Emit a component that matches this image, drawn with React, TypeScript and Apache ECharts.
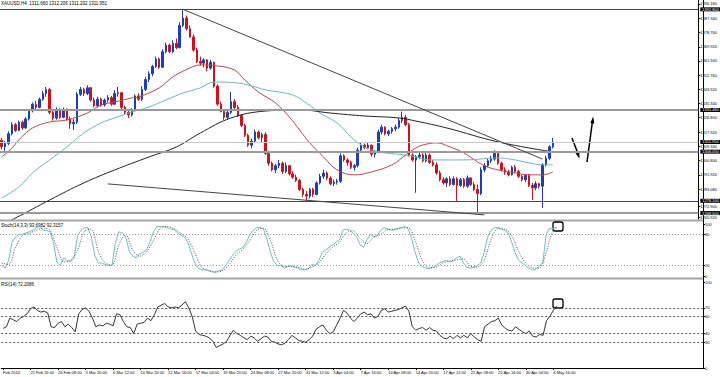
import React, { useEffect, useRef } from "react";
import * as echarts from "echarts";

const tickLabels = ["Feb 2014", "21 Feb 16:00", "26 Feb 08:00", "3 Mar 20:00", "6 Mar 12:00", "10 Mar 20:00", "12 Mar 16:00", "17 Mar 04:00", "19 Mar 20:00", "24 Mar 08:00", "27 Mar 20:00", "31 Mar 12:00", "3 Apr 04:00", "7 Apr 16:00", "10 Apr 08:00", "14 Apr 20:00", "17 Apr 12:00", "22 Apr 08:00", "25 Apr 16:00", "30 Apr 04:00", "4 May 16:00"];
const BARS_PER_LABEL = 8;
const SLOTS = 204;

// [open, close, low, high]
const candles: number[][] = [
  [1313, 1309, 1307.5, 1314.5], [1309, 1311, 1306.5, 1312.5], [1311, 1317, 1310, 1318.5], [1317, 1322.5, 1316, 1324],
  [1322.5, 1319, 1318, 1323.5], [1319, 1324, 1318.5, 1325], [1324, 1320.5, 1319.5, 1325], [1320.5, 1326, 1320, 1327],
  [1326, 1331, 1325, 1332], [1331, 1335, 1330, 1336], [1335, 1333, 1332, 1337], [1333, 1338, 1332.5, 1339],
  [1338, 1341.5, 1337, 1343], [1341.5, 1344, 1339.5, 1345.5], [1344, 1330, 1329, 1345], [1330, 1326.5, 1325, 1331.5],
  [1326.5, 1331, 1325.5, 1333], [1331, 1327, 1326, 1332.5], [1327, 1331.5, 1326.5, 1333], [1331.5, 1326, 1325, 1332.5],
  [1326, 1323, 1320, 1327.5], [1323, 1324, 1319.3, 1326], [1324, 1341, 1323, 1342.5], [1341, 1344, 1340, 1345.5],
  [1344, 1341.5, 1340, 1345], [1341.5, 1345, 1340.5, 1346.5], [1345, 1337.5, 1336.5, 1345.5], [1337.5, 1334, 1333, 1339],
  [1334, 1338, 1333, 1339.5], [1338, 1334.5, 1333.5, 1339], [1334.5, 1337.5, 1333.5, 1338.5], [1337.5, 1339, 1336, 1340.5],
  [1339, 1335, 1334, 1340], [1335, 1341.5, 1334.5, 1343.5], [1341.5, 1342, 1339.5, 1345.5], [1342, 1333, 1332, 1342.5],
  [1333, 1330, 1329, 1334], [1330, 1328.5, 1326.5, 1331.5], [1328.5, 1331.5, 1327.5, 1332.5], [1331.5, 1340, 1331, 1341],
  [1340, 1338, 1337, 1341.5], [1338, 1344, 1337, 1346], [1344, 1350, 1343, 1351.5], [1350, 1353.5, 1348.5, 1355],
  [1353.5, 1358, 1352, 1359], [1358, 1362.5, 1357, 1364], [1362.5, 1357.5, 1356.5, 1363.5], [1357.5, 1367, 1357, 1368.5],
  [1367, 1371, 1366, 1372.5], [1371, 1367, 1366, 1372], [1367, 1372, 1366, 1374], [1372, 1369.5, 1368.5, 1375],
  [1369.5, 1383, 1369, 1385], [1383, 1387.5, 1382, 1392.8], [1387.5, 1381, 1380, 1389], [1381, 1376, 1375.5, 1383],
  [1376, 1368, 1367, 1377.5], [1368, 1361, 1360, 1369.5], [1361, 1360, 1358.5, 1364], [1360, 1362, 1357.5, 1363],
  [1362, 1357, 1355, 1362.5], [1357, 1360.5, 1356, 1362], [1360.5, 1346, 1345, 1361], [1346, 1335, 1334, 1347],
  [1335, 1330.5, 1330, 1336.5], [1330.5, 1327, 1325.5, 1332], [1327, 1330, 1325.5, 1331], [1330, 1336.5, 1329, 1342.5],
  [1336.5, 1333, 1332, 1338], [1333, 1328, 1327, 1334.5], [1328, 1322, 1321, 1329], [1322, 1316, 1315, 1323],
  [1316, 1310, 1309, 1317], [1310, 1312.5, 1308, 1314], [1312.5, 1318, 1311.5, 1319.5], [1318, 1314.5, 1313.5, 1319],
  [1314.5, 1316.5, 1312, 1317.5], [1316.5, 1305, 1304, 1318], [1305, 1299, 1297.5, 1306], [1299, 1295, 1294, 1300],
  [1295, 1297.5, 1293, 1298.5], [1297.5, 1299, 1296, 1301], [1299, 1294, 1292.5, 1300], [1294, 1297.5, 1293, 1299.5],
  [1297.5, 1292.5, 1291.5, 1298], [1292.5, 1290.5, 1289.5, 1294], [1290.5, 1288.5, 1287.5, 1292], [1288.5, 1283, 1282, 1289.5],
  [1283, 1280, 1278.5, 1284], [1280, 1279, 1276, 1282], [1279, 1283, 1277.5, 1284], [1283, 1280, 1278.5, 1284],
  [1280, 1287, 1279.5, 1288], [1287, 1291, 1286, 1292.5], [1291, 1293, 1289.5, 1295], [1293, 1290, 1288.5, 1294],
  [1290, 1286.5, 1285.5, 1291], [1286.5, 1287.5, 1285, 1289], [1287.5, 1288, 1286, 1289.5], [1288, 1303.5, 1287, 1305],
  [1303.5, 1301, 1300, 1304.5], [1301, 1299.5, 1297.5, 1302], [1299.5, 1296.5, 1295.5, 1300.5], [1296.5, 1297.5, 1294.5, 1298.5],
  [1297.5, 1307, 1296.5, 1308.5], [1307, 1310, 1305.5, 1311.5], [1310, 1308.5, 1307.5, 1311], [1308.5, 1310, 1307.5, 1311.5],
  [1310, 1304.5, 1303, 1310.5], [1304.5, 1306, 1302.5, 1307], [1306, 1318, 1305, 1319.5], [1318, 1321, 1316.5, 1322.5],
  [1321, 1317, 1316, 1321.5], [1317, 1318.5, 1315.5, 1319.5], [1318.5, 1320, 1317, 1321], [1320, 1321, 1318.5, 1322.5],
  [1321, 1325, 1320, 1326.5], [1325, 1327, 1323.5, 1330.5], [1327, 1322.5, 1321.5, 1328.5], [1322.5, 1304, 1303, 1323.5],
  [1304, 1301, 1300, 1305], [1301, 1303, 1281, 1304], [1303, 1304, 1301.5, 1305.5], [1304, 1300.5, 1299.5, 1305],
  [1300.5, 1304, 1299.5, 1305.5], [1304, 1299.5, 1298.5, 1305], [1299.5, 1298, 1297, 1301], [1298, 1293, 1292, 1299.5],
  [1293, 1289, 1288, 1294.5], [1289, 1287, 1286, 1290.5], [1287, 1289.5, 1284.5, 1290.5], [1289.5, 1286, 1285, 1291],
  [1286, 1289.5, 1285.5, 1291], [1289.5, 1285.5, 1275.4, 1290.5], [1285.5, 1289, 1284.5, 1290], [1289, 1285, 1284, 1290],
  [1285, 1290, 1284, 1291.5], [1290, 1286, 1285, 1290.5], [1286, 1283, 1282, 1287.5], [1283, 1280.5, 1268.5, 1286],
  [1280.5, 1295, 1279.5, 1296.5], [1295, 1297.5, 1293.5, 1299], [1297.5, 1300.5, 1296.5, 1302], [1300.5, 1301.5, 1299, 1303.5],
  [1301.5, 1305, 1300.5, 1307], [1305, 1299, 1298, 1306], [1299, 1295, 1294, 1300], [1295, 1293.5, 1292, 1296.5],
  [1293.5, 1292, 1291, 1295], [1292, 1296.5, 1291.5, 1297.5], [1296.5, 1294, 1293, 1298], [1294, 1291, 1290, 1295],
  [1291, 1289, 1288, 1292], [1289, 1291.5, 1287.5, 1292.5], [1291.5, 1285.5, 1284.5, 1292.5], [1285.5, 1284, 1276.6, 1287],
  [1284, 1286.5, 1282.5, 1288], [1286.5, 1285, 1283.5, 1287], [1285, 1298, 1271.7, 1299], [1298, 1302, 1297, 1303.5],
  [1302, 1309, 1301, 1310], [1309, 1311.951, 1308, 1314.5],
];

// moving averages as [barIndex, price]
const maRed: number[][] = [[0, 1302.8], [3, 1308.3], [5, 1313.2], [9, 1320.5], [14, 1324.1], [19, 1325.4], [25, 1329.6], [29, 1334.5], [33, 1336.3], [38, 1338.8], [40, 1339.4], [46, 1344.9], [50, 1351.6], [55, 1357.1], [58, 1358.9], [63, 1358.3], [68, 1355.8], [71, 1349.7], [75, 1342.4], [80, 1335.7], [84, 1327.2], [87, 1319.3], [90, 1311.4], [94, 1302.8], [98, 1294.9], [103, 1291.9], [108, 1293.7], [114, 1298.0], [118, 1304.0], [121, 1308.3], [123, 1310.1], [127, 1311.4], [131, 1308.9], [135, 1305.3], [139, 1299.8], [142, 1296.7], [145, 1294.9], [150, 1293.1], [154, 1291.9], [158, 1291.9], [161, 1293.7]];
const maTeal: number[][] = [[0, 1277.8], [5, 1284.5], [9, 1293.1], [14, 1301.0], [19, 1308.9], [24, 1317.4], [29, 1323.5], [33, 1326.6], [38, 1330.2], [43, 1333.3], [48, 1337.6], [53, 1341.8], [58, 1344.9], [62, 1348.5], [69, 1347.9], [75, 1344.9], [77, 1343.7], [85, 1340.6], [89, 1335.7], [93, 1329.6], [98, 1323.5], [102, 1315.0], [105, 1310.1], [108, 1307.1], [112, 1305.3], [118, 1304.0], [121, 1302.8], [125, 1301.0], [135, 1301.0], [145, 1302.2], [150, 1301.0], [154, 1299.2], [158, 1298.0], [161, 1298.0]];
const maBlack: number[][] = [[0, 1262.0], [4, 1265.6], [14, 1276.6], [24, 1287.0], [33, 1294.9], [43, 1302.8], [51, 1308.9], [58, 1317.4], [67, 1326.6], [77, 1330.8], [87, 1331.5], [96, 1329.6], [106, 1327.8], [116, 1326.6], [121, 1324.7], [130, 1320.5], [145, 1312.0], [161, 1305.9]];

// trend lines: [[barIndex, price], [barIndex, price]]
const trendUpper: number[][] = [[53, 1392.8], [158, 1301.5]];
const trendLower: number[][] = [[31, 1286.4], [141, 1267.5]];

// horizontal levels
const levelDark = [1392.8, 1276.1];
const levelGrey = [1331.46, 1306.05, 1268.6];
const bidPrice = 1311.951;

// main price axis labels
const priceTicks = [1396.18, 1387.34, 1378.76, 1369.92, 1361.34, 1352.76, 1343.92, 1335.34, 1326.8, 1317.92, 1309.34, 1300.8, 1291.92, 1283.08, 1272.9, 1265.92];

// Stochastic %K and %D as [barIndex, value]
const stochK: number[][] = [[0, 20], [1, 15], [2, 30], [3, 65], [4, 75], [5, 80], [6, 80], [7, 83], [8, 85], [9, 88], [10, 93], [11, 95], [12, 88], [13, 88], [14, 85], [15, 65], [16, 27], [17, 20], [18, 35], [19, 30], [20, 28], [21, 35], [22, 78], [23, 88], [24, 93], [25, 93], [26, 75], [27, 40], [28, 25], [29, 25], [30, 22], [31, 20], [32, 20], [33, 65], [34, 85], [35, 83], [36, 75], [37, 48], [38, 38], [39, 35], [40, 43], [41, 45], [42, 50], [43, 65], [44, 85], [45, 95], [46, 95], [47, 95], [48, 93], [49, 90], [50, 90], [51, 83], [52, 78], [53, 75], [54, 65], [55, 45], [56, 25], [57, 15], [58, 12], [59, 12], [60, 10], [61, 8], [62, 7], [63, 10], [64, 12], [65, 20], [66, 30], [67, 40], [68, 48], [69, 52], [70, 55], [71, 65], [72, 80], [73, 88], [74, 93], [75, 93], [76, 90], [77, 70], [78, 45], [79, 27], [80, 20], [81, 20], [82, 15], [83, 18], [84, 20], [85, 17], [86, 15], [87, 12], [88, 12], [89, 14], [90, 22], [91, 20], [92, 30], [93, 45], [94, 50], [95, 55], [96, 60], [97, 65], [98, 70], [99, 88], [100, 90], [101, 88], [102, 82], [103, 75], [104, 60], [105, 55], [106, 70], [107, 80], [108, 75], [109, 78], [110, 88], [111, 93], [112, 90], [113, 88], [114, 90], [115, 92], [116, 93], [117, 95], [118, 90], [119, 70], [120, 45], [121, 25], [122, 18], [123, 15], [124, 14], [125, 16], [126, 20], [127, 25], [128, 28], [129, 30], [130, 27], [131, 29], [132, 35], [133, 38], [134, 25], [135, 17], [136, 15], [137, 17], [138, 20], [139, 25], [140, 45], [141, 75], [142, 88], [143, 93], [144, 93], [145, 90], [146, 88], [147, 82], [148, 65], [149, 45], [150, 30], [151, 25], [152, 20], [153, 15], [154, 12], [155, 12], [156, 20], [157, 25], [158, 80], [159, 92], [160, 91], [161, 93.7]];
const stochD: number[][] = [[0, 25], [2, 22], [4, 55], [6, 78], [8, 82], [10, 88], [12, 92], [14, 88], [16, 55], [18, 27], [20, 30], [22, 50], [24, 86], [26, 90], [28, 48], [30, 25], [32, 21], [34, 60], [36, 80], [38, 50], [40, 38], [42, 46], [44, 68], [46, 92], [48, 95], [50, 91], [52, 82], [54, 72], [56, 45], [58, 17], [60, 11], [62, 8], [64, 10], [66, 22], [68, 40], [70, 52], [72, 68], [74, 88], [76, 92], [78, 68], [80, 30], [82, 18], [84, 18], [86, 17], [88, 13], [90, 17], [92, 25], [94, 42], [96, 55], [98, 65], [100, 83], [102, 87], [104, 72], [106, 62], [108, 75], [110, 80], [112, 90], [114, 89], [116, 92], [118, 93], [120, 68], [122, 30], [124, 16], [126, 17], [128, 25], [130, 29], [132, 31], [134, 33], [136, 19], [138, 17], [140, 30], [142, 70], [144, 91], [146, 90], [148, 78], [150, 47], [152, 25], [154, 16], [156, 15], [158, 45], [159, 70], [160, 87], [161, 92.3]];

// RSI(14) as [barIndex, value]
const rsi: number[][] = [[0, 46], [1, 48], [2, 58], [3, 56], [4, 54], [5, 58], [6, 60], [7, 63], [8, 69], [9, 71], [10, 67], [11, 65], [12, 66], [13, 64], [14, 48], [15, 47], [16, 52], [17, 54], [18, 48], [19, 51], [20, 47], [21, 42], [22, 63], [23, 68], [24, 70], [25, 66], [26, 58], [27, 48], [28, 50], [29, 49], [30, 52], [31, 51], [32, 49], [33, 63], [34, 62], [35, 54], [36, 48], [37, 47], [38, 40], [39, 51], [40, 52], [41, 53], [42, 58], [43, 55], [44, 62], [45, 71], [46, 73], [47, 75], [48, 71], [49, 70], [50, 71], [51, 70], [52, 73], [53, 77], [54, 70], [55, 60], [56, 43], [57, 39], [58, 38], [59, 37], [60, 35], [61, 31], [62, 24], [63, 26], [64, 28], [65, 31], [66, 38], [67, 44], [68, 40], [69, 38], [70, 35], [71, 33], [72, 37], [73, 35], [74, 31], [75, 34], [76, 37], [77, 36], [78, 31], [79, 30], [80, 28], [81, 27], [82, 29], [83, 33], [84, 38], [85, 35], [86, 32], [87, 31], [88, 30], [89, 33], [90, 37], [91, 45], [92, 48], [93, 50], [94, 44], [95, 40], [96, 42], [97, 50], [98, 58], [99, 67], [100, 64], [101, 58], [102, 54], [103, 58], [104, 63], [105, 65], [106, 62], [107, 63], [108, 58], [109, 60], [110, 67], [111, 69], [112, 65], [113, 66], [114, 67], [115, 68], [116, 70], [117, 72], [118, 66], [119, 48], [120, 44], [121, 46], [122, 47], [123, 44], [124, 47], [125, 44], [126, 43], [127, 38], [128, 35], [129, 34], [130, 37], [131, 34], [132, 38], [133, 35], [134, 38], [135, 35], [136, 40], [137, 36], [138, 33], [139, 31], [140, 48], [141, 51], [142, 54], [143, 55], [144, 58], [145, 50], [146, 46], [147, 44], [148, 43], [149, 48], [150, 45], [151, 42], [152, 40], [153, 43], [154, 37], [155, 36], [156, 39], [157, 38], [158, 55], [159, 60], [160, 67], [161, 72.2]];

const stochLevels = [20, 80];
const rsiLevels = [30, 40, 60, 70];

const FONT = "Liberation Sans";

export default function App() {
  const ref = useRef<HTMLDivElement>(null);
  useEffect(() => {
    if (!ref.current) return;
    const chart = echarts.init(ref.current, null, { renderer: "svg" });
    const categories: string[] = [];
    for (let i = 0; i < SLOTS; i++) {
      const k = i / BARS_PER_LABEL;
      categories.push(i % BARS_PER_LABEL === 0 && k < tickLabels.length ? tickLabels[k] : "");
    }
    const grids = [
      { left: 0, top: 0, width: 703, height: 219 },
      { left: 0, top: 224, width: 703, height: 52 },
      { left: 0, top: 282, width: 703, height: 86 },
    ];
    const xAxes = grids.map((_, k) => ({
      type: "category",
      gridIndex: k,
      data: categories,
      boundaryGap: true,
      axisLine: { show: k === 2, lineStyle: { color: "#000", width: 1 } },
      axisTick: {
        show: k === 2,
        alignWithLabel: true,
        length: 2,
        interval: (idx: number) => categories[idx] !== "",
        lineStyle: { color: "#000" },
      },
      axisLabel: {
        show: k === 2,
        interval: 0,
        align: "left",
        margin: 2,
        fontSize: 4,
        fontFamily: FONT,
        color: "#000",
      },
      splitLine: { show: false },
    }));
    const yBase = {
      type: "value",
      position: "right",
      axisLine: { show: true, lineStyle: { color: "#000", width: 1 } },
      axisTick: { show: true, length: 2, lineStyle: { color: "#000" } },
      splitLine: { show: false },
    };
    const yAxes = [
      {
        ...yBase,
        gridIndex: 0,
        min: 1265.0,
        max: 1398.5,
        axisTick: { ...yBase.axisTick, customValues: priceTicks },
        axisLabel: { customValues: priceTicks, fontSize: 4, fontFamily: FONT, color: "#000", margin: 2, formatter: (v: number) => v.toFixed(3) },
      },
      {
        ...yBase,
        gridIndex: 1,
        min: 0,
        max: 100,
        axisTick: { ...yBase.axisTick, customValues: [0, 20, 80, 100] },
        axisLabel: { customValues: [0, 20, 80, 100], fontSize: 4, fontFamily: FONT, color: "#000", margin: 2 },
      },
      {
        ...yBase,
        gridIndex: 2,
        min: 0,
        max: 100,
        axisTick: { ...yBase.axisTick, customValues: [0, 30, 40, 60, 70, 100] },
        axisLabel: { customValues: [0, 30, 40, 60, 70, 100], fontSize: 4, fontFamily: FONT, color: "#000", margin: 2 },
      },
    ];
    const priceTag = (bg: string) => ({
      show: true,
      position: "end",
      distance: 2,
      formatter: (p: any) => Number(p.value).toFixed(3),
      backgroundColor: bg,
      color: "#fff",
      fontSize: 4,
      fontFamily: FONT,
      padding: [0, 2],
    });
    const option: any = {
      animation: false,
      backgroundColor: "#fff",
      grid: grids,
      xAxis: xAxes,
      yAxis: yAxes,
      series: [
        {
          type: "candlestick",
          xAxisIndex: 0,
          yAxisIndex: 0,
          data: candles,
          barWidth: 2,
          itemStyle: { color: "#1d3fb5", color0: "#c8141c", borderColor: "#1d3fb5", borderColor0: "#c8141c", borderWidth: 1 },
          markLine: {
            silent: true,
            symbol: ["none", "none"],
            animation: false,
            data: [
              ...levelDark.map((v) => ({ yAxis: v, lineStyle: { color: "#444", width: 1, type: "solid" }, label: priceTag("#000") })),
              ...levelGrey.map((v) => ({ yAxis: v, lineStyle: { color: "#9a9a9a", width: 2, type: "solid" }, label: priceTag("#000") })),
              { yAxis: bidPrice, lineStyle: { color: "#c8c8c8", width: 1, type: "solid" }, label: priceTag("#000") },
              [
                { coord: trendUpper[0], lineStyle: { color: "#444", width: 1, type: "solid" }, label: { show: false } },
                { coord: trendUpper[1] },
              ],
              [
                { coord: trendLower[0], lineStyle: { color: "#444", width: 1, type: "solid" }, label: { show: false } },
                { coord: trendLower[1] },
              ],
            ],
          },
        },
        { type: "line", xAxisIndex: 0, yAxisIndex: 0, data: maRed, smooth: 0.4, showSymbol: false, lineStyle: { color: "#b8484b", width: 1 } },
        { type: "line", xAxisIndex: 0, yAxisIndex: 0, data: maTeal, smooth: 0.4, showSymbol: false, lineStyle: { color: "#6ab7c2", width: 1 } },
        { type: "line", xAxisIndex: 0, yAxisIndex: 0, data: maBlack, smooth: 0.4, showSymbol: false, lineStyle: { color: "#222", width: 1 } },
        {
          type: "line",
          xAxisIndex: 1,
          yAxisIndex: 1,
          data: stochK,
          showSymbol: false,
          lineStyle: { color: "#6fbfc0", width: 1 },
          markLine: {
            silent: true,
            symbol: ["none", "none"],
            label: { show: false },
            lineStyle: { color: "#9a9a9a", width: 1, type: [1, 2] },
            data: stochLevels.map((v) => ({ yAxis: v })),
          },
        },
        { type: "line", xAxisIndex: 1, yAxisIndex: 1, data: stochD, smooth: 0.3, showSymbol: false, lineStyle: { color: "#555", width: 1, type: [1, 1.5] } },
        {
          type: "line",
          xAxisIndex: 2,
          yAxisIndex: 2,
          data: rsi,
          showSymbol: false,
          lineStyle: { color: "#333", width: 1 },
          markLine: {
            silent: true,
            symbol: ["none", "none"],
            label: { show: false },
            lineStyle: { color: "#555", width: 1, type: [2, 2] },
            data: rsiLevels.map((v) => ({ yAxis: v })),
          },
        },
      ],
      graphic: [
        { type: "line", shape: { x1: 0, y1: 220.5, x2: 703, y2: 220.5 }, style: { stroke: "#a6a6a6", lineWidth: 2 } },
        { type: "line", shape: { x1: 0, y1: 278.5, x2: 703, y2: 278.5 }, style: { stroke: "#a6a6a6", lineWidth: 2 } },
        { type: "line", shape: { x1: 703.5, y1: 0, x2: 703.5, y2: 368 }, style: { stroke: "#000", lineWidth: 1 } },
        { type: "text", left: 1, top: 1, style: { text: "XAUUSD,H4  1311.660 1312.206 1311.202 1311.951", fontSize: 4.5, fontFamily: FONT, fill: "#000" } },
        { type: "text", left: 1, top: 223, style: { text: "Stoch(14,3,3) 93.6982 92.3157", fontSize: 4.5, fontFamily: FONT, fill: "#000" } },
        { type: "text", left: 1, top: 282, style: { text: "RSI(14) 72.2086", fontSize: 4.5, fontFamily: FONT, fill: "#000" } },
        { type: "rect", shape: { x: 553, y: 222, width: 10, height: 9, r: 2 }, style: { fill: "none", stroke: "#000", lineWidth: 1.3 } },
        { type: "rect", shape: { x: 553, y: 299, width: 10, height: 9, r: 2 }, style: { fill: "none", stroke: "#000", lineWidth: 1.3 } },
        { type: "line", shape: { x1: 572, y1: 138, x2: 578.5, y2: 155 }, style: { stroke: "#000", lineWidth: 1.5 } },
        { type: "polygon", shape: { points: [[579.5, 158.5], [579.3, 152.2], [575.5, 153.6]] }, style: { fill: "#000" } },
        { type: "line", shape: { x1: 587, y1: 162, x2: 592.5, y2: 121 }, style: { stroke: "#000", lineWidth: 1.5 } },
        { type: "polygon", shape: { points: [[593.2, 116.5], [594.3, 123.7], [590.3, 123.1]] }, style: { fill: "#000" } },
      ],
    };
    chart.setOption(option);
    return () => chart.dispose();
  }, []);
  return <div ref={ref} style={{ position: "absolute", left: 0, top: 0, width: 720, height: 377 }} />;
}
